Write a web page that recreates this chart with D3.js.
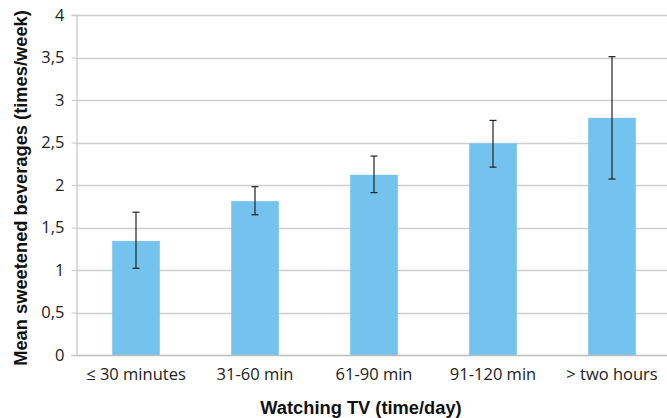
<!DOCTYPE html>
<html><head><meta charset="utf-8">
<script src="https://cdn.jsdelivr.net/npm/d3@7"></script>
<style>body{margin:0;background:#fff}svg{display:block}</style>
</head><body>
<svg id="c" width="667" height="418"></svg>
<script>
const categories = ["≤ 30 minutes","31-60 min","61-90 min","91-120 min","> two hours"];
const means = [1.34, 1.81, 2.12, 2.49, 2.79];
const errLow = [1.02, 1.65, 1.91, 2.21, 2.07];
const errHigh = [1.68, 1.98, 2.34, 2.76, 3.51];
const yTicks = [0,0.5,1,1.5,2,2.5,3,3.5,4];

const svg = d3.select("#c");
const L = 76.5, R = 671.5, T = 15, B = 355;
const x = d3.scaleBand().domain(categories).range([L,R]).paddingInner(0.6).paddingOuter(0.3);
const y = d3.scaleLinear().domain([0,4]).range([B,T]);
const fmt = d => String(d).replace(".", ",");

svg.append("g").selectAll("line").data(yTicks.filter(d=>d>0)).join("line")
  .attr("x1", L).attr("x2", 667).attr("y1", d=>Math.round(y(d))+0.5).attr("y2", d=>Math.round(y(d))+0.5)
  .attr("stroke", "#cfcfcf").attr("stroke-width", 1.3);

const ya = d3.axisLeft(y).tickValues(yTicks).tickFormat(fmt).tickSize(5).tickPadding(7);
const yg = svg.append("g").attr("transform", `translate(${L},0)`).call(ya);
yg.select(".domain").attr("stroke", "#c8c8c8").attr("stroke-width",1.3);
yg.selectAll(".tick line").attr("stroke", "#c8c8c8");
yg.selectAll("text").attr("font-family","Open Sans, sans-serif").attr("font-size", 16.5).attr("fill","#222");

svg.append("g").selectAll("rect").data(categories).join("rect")
  .attr("x", d=>x(d)).attr("width", x.bandwidth())
  .attr("y", (d,i)=>y(means[i])).attr("height", (d,i)=>y(0)-y(means[i]))
  .attr("fill", "#73c3ee");

const xa = d3.axisBottom(x).tickSize(0).tickPadding(13);
const xg = svg.append("g").attr("transform", `translate(0,${B})`).call(xa);
xg.select(".domain").attr("stroke", "#bdbdbd").attr("stroke-width",1.3).attr("d", `M${L},0.5H667`);
xg.selectAll("text").attr("font-family","Open Sans, sans-serif").attr("font-size", 16.5).attr("fill","#222");

const eg = svg.append("g").attr("stroke", "#222").attr("stroke-width", 1.2);
categories.forEach((c,i)=>{
  const cx = x(c) + x.bandwidth()/2;
  eg.append("line").attr("x1",cx).attr("x2",cx).attr("y1",y(errLow[i])).attr("y2",y(errHigh[i]));
  eg.append("line").attr("x1",cx-3.5).attr("x2",cx+3.5).attr("y1",y(errLow[i])).attr("y2",y(errLow[i]));
  eg.append("line").attr("x1",cx-3.5).attr("x2",cx+3.5).attr("y1",y(errHigh[i])).attr("y2",y(errHigh[i]));
});

svg.append("text").attr("x", 361).attr("y", 414).attr("text-anchor","middle")
  .attr("font-family","Liberation Sans, Arial, sans-serif").attr("font-weight","bold").attr("font-size",18.3)
  .attr("fill","#111").text("Watching TV (time/day)");
svg.append("text").attr("transform", "translate(27,188) rotate(-90)").attr("text-anchor","middle")
  .attr("font-family","Liberation Sans, Arial, sans-serif").attr("font-weight","bold").attr("font-size",18.3)
  .attr("fill","#111").text("Mean sweetened beverages (times/week)");
</script>
</body></html>
